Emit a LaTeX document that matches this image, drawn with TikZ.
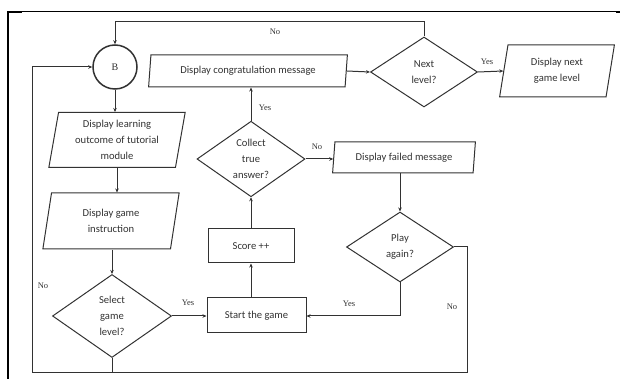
\documentclass[tikz,border=0pt]{standalone}
\usepackage{fontspec}
\setmainfont{Carlito}
\newfontfamily\labelfont{Liberation Serif}
\usetikzlibrary{shapes.geometric,arrows.meta}

\definecolor{ink}{RGB}{50,50,50}

\begin{document}
\begin{tikzpicture}[x=1pt,y=-1pt,
  base/.style={draw=ink, line width=1pt, text=ink, align=center, inner sep=0pt,
    font=\fontsize{10.6}{16}\selectfont},
  io/.style={base, trapezium, trapezium left angle=80, trapezium right angle=100,
    trapezium stretches=true},
  proc/.style={base, rectangle},
  dec/.style={base, diamond},
  conn/.style={base, circle, line width=1.5pt, font=\labelfont\fontsize{10}{12}\selectfont},
  flow/.style={draw=ink, line width=1pt, -{Stealth[length=4pt,width=3.5pt]}},
  plain/.style={draw=ink, line width=1pt},
  lbl/.style={font=\labelfont\fontsize{8.5}{10}\selectfont, text=ink, inner sep=0pt}]

\useasboundingbox (0,0) rectangle (622,379);

% page frame
\draw[black, line width=1pt] (8,12) -- (619,12);
\draw[black, line width=2.2pt] (8,379) -- (8,12) -- (22,12);
\draw[black, line width=2.2pt] (616,12) -- (620,12);

% nodes
\node[conn, minimum size=44pt] (B) at (115,67) {B};
\node[io, minimum width=137pt, minimum height=55pt] (learn) at (117,140)
  {Display learning\\outcome of tutorial\\module};
\node[io, minimum width=137pt, minimum height=56pt] (instr) at (111,221)
  {Display game\\instruction};
\node[dec, minimum width=119pt, minimum height=83pt] (sel) at (112,316)
  {Select\\game\\level?};
\node[proc, minimum width=99pt, minimum height=35pt] (start) at (256.5,315.5)
  {Start the game};
\node[proc, minimum width=86pt, minimum height=34pt] (score) at (251,246)
  {Score ++};
\node[dec, minimum width=108pt, minimum height=73pt] (collect) at (251,159)
  {Collect\\true\\answer?};
\node[io, minimum width=199pt, minimum height=32pt] (congrat) at (248,71)
  {Display congratulation message};
\node[dec, minimum width=107pt, minimum height=70pt] (next) at (424,72)
  {Next\\level?};
\node[io, minimum width=115pt, minimum height=52pt] (nextlvl) at (557,71)
  {Display next\\game level};
\node[io, minimum width=143pt, minimum height=31pt] (failed) at (404,157.5)
  {Display failed message};
\node[dec, minimum width=107pt, minimum height=70pt] (play) at (400,247)
  {Play\\again?};

% routing points
\coordinate (topL) at (115,22);
\coordinate (topR) at (424,22);
\coordinate (loopA) at (467,247);
\coordinate (loopB) at (467,373);
\coordinate (loopC) at (32,373);
\coordinate (loopD) at (32,67);
\coordinate (selFoot) at (112,373);
\coordinate (yesTurn) at (400,316);

% connectors
\draw[flow] (B.south) -- (B.south |- learn.north);
\draw[flow] (learn.south) -- (learn.south |- instr.north);
\draw[flow] (sel.north |- instr.south) -- (sel.north);
\draw[flow] (sel.east) -- (start.west |- sel.east);
\draw[flow] (score.south |- start.north) -- (score.south);
\draw[flow] (score.north) -- (collect.south);
\draw[flow] (collect.north) -- (collect.north |- congrat.south);
\draw[flow] (congrat.east) -- (next.west);
\draw[flow] (next.east) -- (nextlvl.west);
\draw[flow] (next.north) -- (topR) -- (topL) -- (B.north);
\draw[flow] (collect.east) -- (failed.west |- collect.east);
\draw[flow] (play.north |- failed.south) -- (play.north);
\draw[flow] (play.south) -- (yesTurn) -- (start.east |- yesTurn);
\draw[flow] (play.east) -- (loopA) -- (loopB) -- (loopC) -- (loopD) -- (B.west);
\draw[plain] (sel.south) -- (selFoot);

% branch labels
\node[lbl] (l1) at (265,108) {Yes};
\node[lbl] (l2) at (275,32) {No};
\node[lbl] (l3) at (487,62) {Yes};
\node[lbl] (l4) at (317,147) {No};
\node[lbl] (l5) at (188,303) {Yes};
\node[lbl] (l6) at (43,286) {No};
\node[lbl] (l7) at (349,304) {Yes};
\node[lbl] (l8) at (452,307) {No};
\end{tikzpicture}
\end{document}
